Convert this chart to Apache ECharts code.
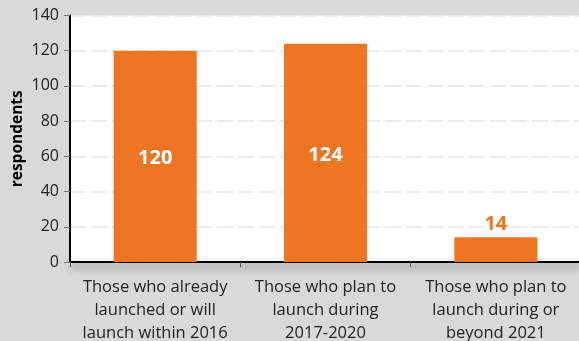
<!DOCTYPE html>
<html>
<head>
<meta charset="utf-8">
<script src="https://cdn.jsdelivr.net/npm/echarts@6/dist/echarts.min.js"></script>
<style>
  html, body { margin: 0; padding: 0; background: #d9d9d9; }
  #chart { width: 579px; height: 341px; }
</style>
</head>
<body>
<div id="chart"></div>
<script>
// Launch timing of respondents
const categories = [
  'Those who already\nlaunched or will\nlaunch within 2016',
  'Those who plan to\nlaunch during\n2017-2020',
  'Those who plan to\nlaunch during or\nbeyond 2021'
];
const respondents = [120, 124, 14];
const yTicks = { min: 0, max: 140, interval: 20 };

const ORANGE = '#ee7623';
const FONT = '"Open Sans", "Noto Sans", sans-serif';

const barData = respondents.map((v, i) => ({
  value: v,
  label: i === 2
    ? { position: 'top', color: ORANGE, distance: 3 }
    : { position: 'inside', color: '#ffffff', offset: [0, 2] }
}));

const chart = echarts.init(document.getElementById('chart'));
chart.setOption({
  backgroundColor: '#d9d9d9',
  animation: false,
  grid: {
    left: 70, right: -2, top: 15.5, bottom: 79,
    outerBoundsMode: 'none',
    containLabel: false,
    show: true, backgroundColor: '#ffffff', borderWidth: 0
  },
  xAxis: {
    type: 'category',
    data: categories,
    axisLine: {
      lineStyle: {
        color: '#000', width: 2,
        shadowColor: 'rgba(0,0,0,0.6)', shadowBlur: 8, shadowOffsetY: 4
      }
    },
    axisTick: { show: true, length: 5, lineStyle: { color: '#555' } },
    axisLabel: {
      color: '#222', fontSize: 16.5, fontFamily: FONT,
      lineHeight: 23, margin: 14, interval: 0
    }
  },
  yAxis: {
    type: 'value',
    min: yTicks.min, max: yTicks.max, interval: yTicks.interval,
    name: 'respondents',
    nameLocation: 'middle',
    nameGap: 44,
    nameRotate: 90,
    nameMoveOverlap: false,
    nameTextStyle: { color: '#000', fontSize: 15.5, fontWeight: 'bold', fontFamily: FONT },
    axisLine: { show: true, lineStyle: { color: '#000', width: 2 } },
    axisTick: { show: true, length: 6, lineStyle: { color: '#777' } },
    axisLabel: { color: '#222', fontSize: 16, fontFamily: FONT, margin: 11 },
    splitLine: { lineStyle: { color: '#e6e6e6', width: 1.5, type: [16, 5] } }
  },
  series: [{
    type: 'bar',
    data: barData,
    barWidth: 83,
    itemStyle: { color: ORANGE },
    label: {
      show: true, fontSize: 20, fontWeight: 'bold', fontFamily: FONT
    }
  }]
});
</script>
</body>
</html>
